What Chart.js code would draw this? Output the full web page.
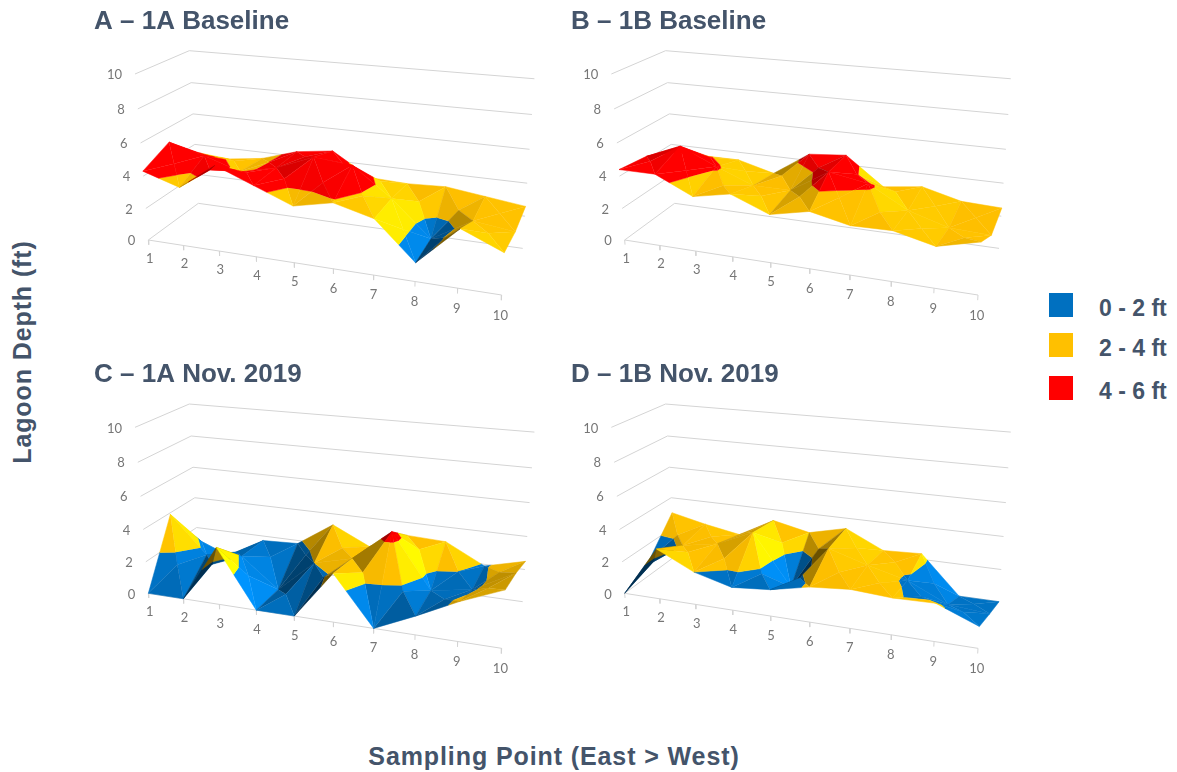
<!DOCTYPE html>
<html>
<head>
<meta charset="utf-8">
<title>Lagoon Depth</title>
<script src="https://cdn.jsdelivr.net/npm/chart.js@4"></script>
<style>
    html, body { margin: 0; padding: 0; background: #fff; width: 1177px; height: 772px; overflow: hidden; }
    canvas { position: absolute; }
    .txt { position: absolute; font-family: "Liberation Sans", Arial, sans-serif; font-weight: bold; color: #44546A; white-space: nowrap; }
    .swatch { position: absolute; width: 24px; height: 24px; }
</style>
</head>
<body>
<canvas id="panelA" width="450" height="340" style="left:94px;top:0"></canvas>
<canvas id="panelB" width="450" height="340" style="left:571px;top:0"></canvas>
<canvas id="panelC" width="450" height="340" style="left:94px;top:353px"></canvas>
<canvas id="panelD" width="450" height="340" style="left:571px;top:353px"></canvas>

<div class="txt" id="yTitle" style="left:22px;top:352px;font-size:25px;letter-spacing:0.9px;transform:translate(-50%,-50%) rotate(-90deg)">Lagoon Depth (ft)</div>
<div class="txt" id="xTitle" style="left:554px;top:756px;font-size:25px;letter-spacing:0.9px;transform:translate(-50%,-50%)">Sampling Point (East &gt; West)</div>
<div id="legend"></div>

<script>
// tick labels
const samplePoints = [1, 2, 3, 4, 5, 6, 7, 8, 9, 10];
const depthTicks = [0, 2, 4, 6, 8, 10];

// legend bands
const bandLabels = ['0 - 2 ft', '2 - 4 ft', '4 - 6 ft'];
const bandLow = [0, 2, 4];
const bandHigh = [2, 4, 6];
const bandColors = ['#0070C0', '#FFC000', '#FF0000'];

// depth (ft) per sampling point, three rows front to back
const a1Front = [4.3, 3.6, 5.2, 4.3, 3.4, 3.9, 3.3, 1.1, 3.4, 2.4];
const a1Mid = [5.1, 4.5, 3.8, 4.3, 5.2, 5.0, 3.3, 1.2, 2.6, 2.3];
const a1Back = [3.3, 3.3, 3.6, 4.3, 4.6, 3.2, 3.1, 3.2, 2.9, 2.6];

const b1Front = [4.4, 4.4, 3.35, 3.8, 2.9, 3.4, 2.9, 2.95, 2.4, 3.0];
const b1Mid = [4.2, 5.1, 4.1, 3.2, 3.2, 4.6, 4.2, 2.9, 2.2, 2.1];
const b1Back = [3.5, 3.5, 3.5, 2.9, 4.4, 4.6, 2.9, 3.2, 2.6, 2.5];

const c1Front = [0, 0, 3.5, 0, 0, 2.9, 0, 1.1, 2.3, 3.3];
const c1Mid = [3.9, 1.6, 1.8, 0, 2.0, 2.6, 4.5, 1.3, 1.7, 3.0];
const c1Back = [1.2, 0.3, 1.7, 1.8, 3.3, 2.2, 3.2, 3.1, 1.9, 2.5];

const d1Front = [0, 3.1, 2.0, 1.4, 1.6, 2.1, 2.3, 2.15, 2.2, 1.25];
const d1Mid = [1.0, 2.2, 2.6, 3.6, 0.5, 3.2, 2.5, 1.9, 0.8, 0.6];
const d1Back = [3.0, 2.5, 2.1, 3.3, 2.8, 3.35, 2.25, 2.35, 0, 0];

// perspective box of the 3D plot: floor corner and the ends of its three edges
const boxO = [175, 720], boxU = [1235, 885], boxV = [325, 610], boxW = [135, 222];
const weightU = 0.88, weightV = 1.097, weightW = 0.938;

function depthOf(col, row, z) {
    const u = (col - 1) / 9, v = row / 2, w = z / 10;
    return 1 + u * (weightU - 1) + v * (weightV - 1) + w * (weightW - 1);
}

function project(col, row, z) {
    const u = (col - 1) / 9, v = row / 2, w = z / 10;
    const d = depthOf(col, row, z);
    const along = (i) => boxO[i] + u * (weightU * boxU[i] - boxO[i]) + v * (weightV * boxV[i] - boxO[i]) + w * (weightW * boxW[i] - boxO[i]);
    return { x: along(0) / d, y: along(1) / d };
}

function shadeColor(hex, s) {
    const n = parseInt(hex.slice(1), 16);
    const c = [n >> 16, (n >> 8) & 255, n & 255].map(v => Math.min(255, Math.round(v * s)));
    return `rgb(${c[0]},${c[1]},${c[2]})`;
}

// Cut a triangle down to the part inside one depth band
function clipBand(tri, lo, hi) {
    const cut = (poly, limit, keepAbove) => {
        const out = [];
        for (let i = 0; i < poly.length; i++) {
            const p = poly[i], q = poly[(i + 1) % poly.length];
            const pIn = keepAbove ? p[2] >= limit : p[2] <= limit;
            const qIn = keepAbove ? q[2] >= limit : q[2] <= limit;
            if (pIn) out.push(p);
            if (pIn !== qIn) {
                const t = (limit - p[2]) / (q[2] - p[2]);
                out.push([p[0] + t * (q[0] - p[0]), p[1] + t * (q[1] - p[1]), limit]);
            }
        }
        return out;
    };
    return cut(cut(tri, lo, true), hi, false);
}

function triangleShade(tri) {
    const [a, b, c] = tri;
    // world scale: one column, one row, one foot
    const sx = 118, sy = 150, sz = 50;
    const ux = (b[0] - a[0]) * sx, uy = (b[1] - a[1]) * sy, uz = (b[2] - a[2]) * sz;
    const vx = (c[0] - a[0]) * sx, vy = (c[1] - a[1]) * sy, vz = (c[2] - a[2]) * sz;
    let nx = uy * vz - uz * vy, ny = uz * vx - ux * vz, nz = ux * vy - uy * vx;
    if (nz < 0) { nx = -nx; ny = -ny; nz = -nz; }
    const len = Math.hypot(nx, ny, nz);
    const side = nx / len, front = ny / len;
    // right-facing facets brighten a little, left-facing ones fall off fast
    const s = side > 0 ? 1 + 0.42 * Math.pow(side, 1.5) : 1 - 1.1 * side * side;
    return Math.max(0.42, s + 0.06 * front);
}

// One filled dataset per surface facet, far ones first
function surfaceDatasets(rows) {
    const tris = [];
    for (let r = 0; r < rows.length - 1; r++) {
        for (let i = 0; i < samplePoints.length - 1; i++) {
            const c0 = samplePoints[i], c1 = samplePoints[i + 1];
            const corners = [[c0, r, rows[r][i]], [c1, r, rows[r][i + 1]], [c1, r + 1, rows[r + 1][i + 1]], [c0, r + 1, rows[r + 1][i]]];
            const mid = [(c0 + c1) / 2, r + 0.5, (rows[r][i] + rows[r][i + 1] + rows[r + 1][i] + rows[r + 1][i + 1]) / 4];
            for (let k = 0; k < 4; k++) tris.push([corners[k], corners[(k + 1) % 4], mid]);
        }
    }
    const key = (t) => (depthOf(t[0][0], t[0][1], t[0][2]) + depthOf(t[1][0], t[1][1], t[1][2]) + depthOf(t[2][0], t[2][1], t[2][2])) / 3;
    tris.sort((p, q) => key(q) - key(p));

    const sets = [];
    tris.forEach(tri => {
        const s = triangleShade(tri);
        bandColors.forEach((color, b) => {
            const poly = clipBand(tri, bandLow[b], bandHigh[b]);
            if (poly.length < 3) return;
            const fillColor = shadeColor(color, s);
            sets.push({
                data: poly.map(p => project(p[0], p[1], p[2])),
                showLine: true,
                fill: 'shape',
                backgroundColor: fillColor,
                borderColor: fillColor,
                borderWidth: 0.5,
                pointRadius: 0,
                clip: false
            });
        });
    });
    return sets;
}

function frameDatasets() {
    const sets = [];
    const line = (points) => sets.push({
        data: points,
        showLine: true,
        borderColor: '#d4d4d4',
        borderWidth: 1,
        pointRadius: 0,
        fill: false,
        clip: false
    });
    depthTicks.forEach(z => {
        line([project(1, 0, z), project(1, 2, z), project(10, 2, z)]);
    });
    line([project(1, 0, 0), project(10, 0, 0)]);
    samplePoints.forEach(c => line([project(c, 0, 0), project(c, 0, -0.3)]));
    return sets;
}

// tick labels follow the projected axes
const axisLabels = {
    id: 'axisLabels',
    afterDraw(chart) {
        const { ctx, scales } = chart;
        ctx.save();
        ctx.font = '13px Lato, "Liberation Sans", sans-serif';
        ctx.fillStyle = '#767676';
        ctx.textBaseline = 'middle';
        ctx.textAlign = 'center';
        samplePoints.forEach(c => {
            const p = project(c, 0, -1.2);
            ctx.fillText(String(c), scales.x.getPixelForValue(p.x), scales.y.getPixelForValue(p.y));
        });
        ctx.textAlign = 'right';
        depthTicks.forEach(z => {
            const p = project(1, 0, z);
            ctx.fillText(String(z), scales.x.getPixelForValue(p.x) - 13, scales.y.getPixelForValue(p.y) + 1);
        });
        ctx.restore();
    }
};

function drawPanel(canvasId, titleText, rows, xShift, yShift) {
    const titleHeight = 35;
    // chart draws later datasets first, so flip to paint the frame, then far facets, then near
    const datasets = frameDatasets().concat(surfaceDatasets(rows)).reverse();
    new Chart(document.getElementById(canvasId), {
        type: 'scatter',
        data: { datasets: datasets },
        options: {
            responsive: false,
            animation: false,
            events: [],
            layout: { padding: 0 },
            plugins: {
                legend: { display: false },
                tooltip: { enabled: false },
                title: {
                    display: true,
                    text: titleText,
                    align: 'start',
                    color: '#44546A',
                    font: { family: '"Liberation Sans", Arial, sans-serif', size: 26, weight: 'bold', lineHeight: 1 },
                    padding: { top: 9, bottom: 0 }
                }
            },
            scales: {
                x: { type: 'linear', display: false, min: xShift, max: xShift + 1350 },
                y: { type: 'linear', display: false, reverse: true, min: titleHeight * 3 - yShift, max: 1020 - yShift }
            }
        },
        plugins: [axisLabels]
    });
}

drawPanel('panelA', 'A \u2013 1A Baseline', [a1Front, a1Mid, a1Back], 12, 0);
drawPanel('panelB', 'B \u2013 1B Baseline', [b1Front, b1Mid, b1Back], 14, 0);
drawPanel('panelC', 'C \u2013 1A Nov. 2019', [c1Front, c1Mid, c1Back], 12, 1);
drawPanel('panelD', 'D \u2013 1B Nov. 2019', [d1Front, d1Mid, d1Back], 14, 1);

// legend
const legendBox = document.getElementById('legend');
const legendTops = [293, 333, 376];
bandLabels.forEach((label, i) => {
    const sw = document.createElement('div');
    sw.className = 'swatch';
    sw.style.left = '1049px';
    sw.style.top = legendTops[i] + 'px';
    sw.style.background = bandColors[i];
    legendBox.appendChild(sw);
    const t = document.createElement('div');
    t.className = 'txt';
    t.style.left = '1099px';
    t.style.top = (legendTops[i] + 2) + 'px';
    t.style.fontSize = '23px';
    t.textContent = label;
    legendBox.appendChild(t);
});
</script>
</body>
</html>
